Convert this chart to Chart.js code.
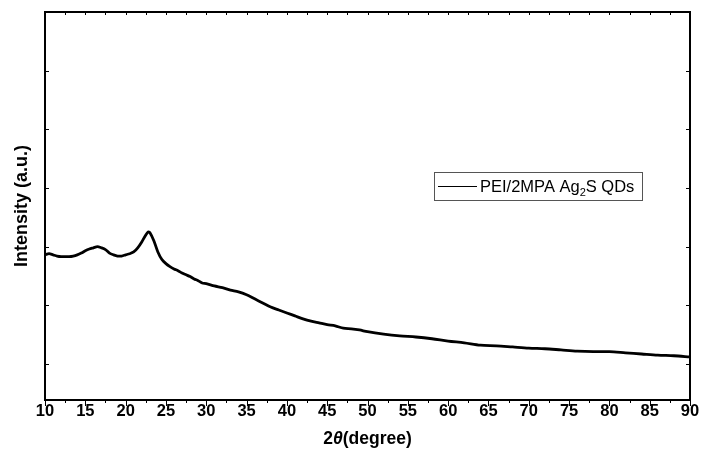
<!DOCTYPE html>
<html>
<head>
<meta charset="utf-8">
<script src="https://cdn.jsdelivr.net/npm/chart.js@4/dist/chart.umd.min.js"></script>
<style>
html,body{margin:0;padding:0;background:#fff;}
#wrap{width:701px;height:461px;}
</style>
</head>
<body>
<div id="wrap"><canvas id="c" width="701" height="461"></canvas></div>
<script>
// ---- data ----
const twoTheta = [
  10, 10.5, 11, 11.5, 12, 12.5, 13, 13.5, 14, 14.5, 15, 15.5, 16, 16.5, 17, 17.5, 18, 18.5, 19, 19.5,
  20, 20.5, 21, 21.5, 22, 22.5, 22.8, 23, 23.5, 24, 24.5, 25, 25.5, 26, 26.5, 27, 27.5, 28, 28.5, 29, 29.5,
  30, 31, 32, 33, 34, 35, 36, 37, 38, 39, 40, 41, 42, 43, 44, 45, 46, 47, 48, 49, 50,
  52, 54, 56, 58, 60, 62, 64, 66, 68, 70, 72, 74, 76, 78, 80, 82, 84, 86, 88, 90
];
const intensity = [
  1.86, 1.88, 1.86, 1.84, 1.83, 1.83, 1.83, 1.84, 1.86, 1.89, 1.93, 1.96, 1.98, 2.00, 1.98, 1.95, 1.89, 1.86, 1.84, 1.84,
  1.86, 1.88, 1.91, 1.98, 2.08, 2.20, 2.25, 2.24, 2.10, 1.91, 1.78, 1.71, 1.66, 1.62, 1.59, 1.55, 1.52, 1.49, 1.45, 1.42, 1.38,
  1.37, 1.33, 1.30, 1.26, 1.23, 1.18, 1.11, 1.04, 0.97, 0.92, 0.87, 0.82, 0.77, 0.73, 0.70, 0.67, 0.65, 0.61, 0.60, 0.58, 0.55,
  0.51, 0.48, 0.46, 0.43, 0.39, 0.36, 0.32, 0.31, 0.29, 0.27, 0.26, 0.24, 0.22, 0.21, 0.21, 0.19, 0.17, 0.15, 0.14, 0.12
];
const xTicks = [10, 15, 20, 25, 30, 35, 40, 45, 50, 55, 60, 65, 70, 75, 80, 85, 90];
const xMinorTicks = [12.5, 17.5, 22.5, 27.5, 32.5, 37.5, 42.5, 47.5, 52.5, 57.5, 62.5, 67.5, 72.5, 77.5, 82.5, 87.5];
const yTicks = [0, 1, 2, 3, 4, 5, 6];
const seriesName = 'PEI/2MPA Ag\u2082S QDs';
const legendParts = ['PEI/2MPA Ag', '2', 'S QDs'];
const xTitleParts = ['2', '\u03B8', '(degree)'];
const yTitle = 'Intensity (a.u.)';

const FONT = '"Liberation Sans", Arial, Helvetica, sans-serif';

const framePlugin = {
  id: 'frame',
  afterDatasetsDraw(chart) {
    const {ctx, chartArea: {left, right, top, bottom}, scales: {x, y}} = chart;
    ctx.save();
    ctx.strokeStyle = '#000';
    ctx.lineWidth = 2;
    ctx.strokeRect(left, top, right - left, bottom - top);
    ctx.lineWidth = 1;
    const seg = (x1, y1, x2, y2) => { ctx.beginPath(); ctx.moveTo(x1, y1); ctx.lineTo(x2, y2); ctx.stroke(); };
    xTicks.forEach(v => {
      const px = Math.round(x.getPixelForValue(v)) + 0.5;
      seg(px, bottom, px, bottom + 6);
      seg(px, top, px, top + 3);
    });
    xMinorTicks.forEach(v => {
      const px = Math.round(x.getPixelForValue(v)) + 0.5;
      seg(px, bottom, px, bottom + 3);
      seg(px, top, px, top + 3);
    });
    yTicks.forEach(v => {
      const py = Math.round(y.getPixelForValue(v)) + 0.5;
      seg(left, py, left + 4, py);
      seg(right, py, right - 4, py);
    });
    ctx.restore();
  },
  afterDraw(chart) {
    const {ctx, chartArea: {left, right}} = chart;
    ctx.save();
    // x-axis title with italic theta
    const f1 = 'bold 17.5px ' + FONT;
    const f2 = 'italic bold 17.5px ' + FONT;
    ctx.font = f1; const w0 = ctx.measureText(xTitleParts[0]).width;
    ctx.font = f2; const w1 = ctx.measureText(xTitleParts[1]).width;
    ctx.font = f1; const w2 = ctx.measureText(xTitleParts[2]).width;
    let tx = (left + right) / 2 - (w0 + w1 + w2) / 2;
    const ty = 444;
    ctx.fillStyle = '#000';
    ctx.textBaseline = 'alphabetic';
    ctx.textAlign = 'left';
    ctx.font = f1; ctx.fillText(xTitleParts[0], tx, ty); tx += w0;
    ctx.font = f2; ctx.fillText(xTitleParts[1], tx, ty); tx += w1;
    ctx.font = f1; ctx.fillText(xTitleParts[2], tx, ty);

    // legend box
    const bx = 434, by = 172, bw = 208, bh = 28;
    ctx.strokeStyle = '#555';
    ctx.lineWidth = 1;
    ctx.strokeRect(bx + 0.5, by + 0.5, bw, bh);
    ctx.strokeStyle = '#000';
    ctx.beginPath(); ctx.moveTo(438, by + 14.5); ctx.lineTo(477, by + 14.5); ctx.stroke();
    const lf = '16.5px ' + FONT, sf = '11px ' + FONT;
    let lx = 480; const ly = by + 20;
    ctx.font = lf; ctx.fillText(legendParts[0], lx, ly); lx += ctx.measureText(legendParts[0]).width;
    ctx.font = sf; ctx.fillText(legendParts[1], lx, ly + 4); lx += ctx.measureText(legendParts[1]).width;
    ctx.font = lf; ctx.fillText(legendParts[2], lx, ly);
    ctx.restore();
  }
};

new Chart(document.getElementById('c'), {
  type: 'line',
  data: {
    datasets: [{
      label: seriesName,
      data: twoTheta.map((t, i) => ({x: t, y: intensity[i]})),
      borderColor: '#000',
      backgroundColor: '#000',
      borderWidth: 2.8,
      pointRadius: 0,
      tension: 0.3,
      fill: false
    }]
  },
  options: {
    responsive: false,
    animation: false,
    devicePixelRatio: 1,
    layout: {padding: {left: 0, right: 11, top: 12, bottom: 0}},
    plugins: {legend: {display: false}, tooltip: {enabled: false}},
    scales: {
      x: {
        type: 'linear', min: 10, max: 90, position: 'bottom',
        afterBuildTicks: s => { s.ticks = xTicks.map(v => ({value: v})); },
        ticks: {color: '#000', font: {family: FONT, size: 16.5, weight: 'bold'}, padding: 2, maxRotation: 0, autoSkip: false},
        grid: {display: false, drawTicks: false},
        border: {display: false},
        afterFit: s => { s.height = 61; s.paddingLeft = 0; s.paddingRight = 0; }
      },
      y: {
        type: 'linear', min: -0.614, max: 6,
        afterBuildTicks: s => { s.ticks = yTicks.map(v => ({value: v})); },
        ticks: {display: false},
        grid: {display: false, drawTicks: false},
        border: {display: false},
        title: {display: true, text: yTitle, color: '#000', font: {family: FONT, size: 18, weight: 'bold'}, padding: {top: 11, bottom: 0}},
        afterFit: s => { s.width = 45; }
      }
    }
  },
  plugins: [framePlugin]
});
</script>
</body>
</html>
